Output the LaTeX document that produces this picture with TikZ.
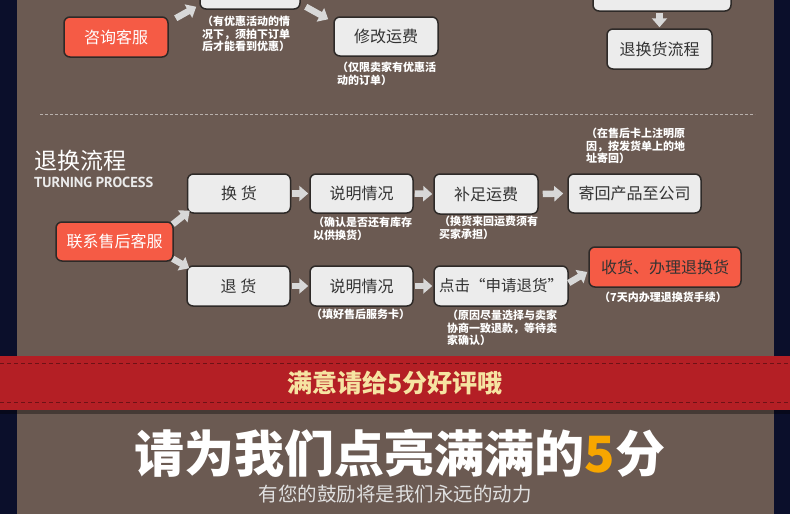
\documentclass[tikz,border=0pt]{standalone}
\usepackage{fontspec}
\newfontfamily\cjk{Noto Sans CJK SC}
\newfontfamily\ptsans{PT Sans}
\usetikzlibrary{arrows.meta,calc}
\definecolor{navy}{HTML}{0B0F2B}
\definecolor{panel}{HTML}{6B5A52}
\definecolor{boxgray}{HTML}{ECECEC}
\definecolor{boxline}{HTML}{2E2A28}
\definecolor{boxred}{HTML}{F55B45}
\definecolor{arrowgray}{HTML}{D8D8D8}
\definecolor{txtdark}{HTML}{333333}
\definecolor{bannerred}{HTML}{B41F25}
\definecolor{stitchred}{HTML}{6E1216}
\definecolor{cream}{HTML}{F6E4A2}
\definecolor{gold}{HTML}{F7A600}
\definecolor{sepgray}{HTML}{B8B0AC}
\tikzset{
  gbox/.style={draw=boxline, line width=1.5pt, fill=boxgray, rounded corners=6pt,
    text=txtdark, font=\cjk\fontsize{16}{16}\selectfont, inner sep=0pt, align=center},
  rbox/.style={gbox, fill=boxred, text=white},
  fat/.style={draw=arrowgray, line width=6.5pt, -{Triangle[width=15pt,length=9pt]}},
  note/.style={text=white, font=\cjk\bfseries\fontsize{11}{12.6}\selectfont,
    align=left, inner sep=0pt, anchor=north west},
}
\begin{document}
\begin{tikzpicture}[x=1pt,y=-1pt]
\clip (0,0) rectangle (790,514);
\fill[navy] (0,0) rectangle (790,514);
\fill[panel] (17,0) rectangle (774,514);
% separator
\draw[sepgray, line width=0.8pt, dash pattern=on 3pt off 2pt] (40,114.5) -- (755,114.5);

% top section
\node[gbox, minimum width=100pt, minimum height=40pt] (tb) at (250,-11) {};
\node[gbox, minimum width=138pt, minimum height=40pt] (tr) at (662,-9) {};
\node[rbox, minimum width=104pt, minimum height=40pt] (zx) at (116,37) {咨询客服};
\node[gbox, minimum width=104pt, minimum height=39pt] (xg) at (386,36.5) {修改运费};
\node[gbox, minimum width=105pt, minimum height=40pt] (tg) at (659.5,49) {退换货流程};

\draw[fat] ([shift={(7,2)}]zx.north east) -- ([shift={(-3,-3)}]tb.south west);
\draw[fat] ([shift={(5,-3)}]tb.south east) -- ([shift={(-5,3)}]xg.north west);
\draw[fat] ([yshift=-1pt]tg.north |- tr.south) -- ([yshift=1pt]tg.north);

\node[note] (n1) at (202,16) {（有优惠活动的情\\况下，须拍下订单\\后才能看到优惠）};
\node[note] (n2) at (337,62) {（仅限卖家有优惠活\\动的订单）};

% title
\node[text=white, font=\cjk\fontsize{23}{23}\selectfont, inner sep=0pt, anchor=west] (t1) at (34,161) {退换流程};
\node[text=white!92!black, font=\ptsans\bfseries\fontsize{14.5}{14.5}\selectfont, inner sep=0pt, anchor=west] (t2) at (34,182.5) {TURNING PROCESS};

% middle flow
\node[gbox, minimum width=103pt, minimum height=39pt] (hh) at (239,193.5) {换 货};
\node[gbox, minimum width=103pt, minimum height=39pt] (sm1) at (361.5,193.5) {说明情况};
\node[gbox, minimum width=104pt, minimum height=40pt] (bz) at (486,194) {补足运费};
\node[gbox, minimum width=133pt, minimum height=39pt] (jh) at (634.5,193.5) {寄回产品至公司};
\node[rbox, minimum width=117pt, minimum height=39pt] (lx) at (114.5,241.5) {联系售后客服};
\node[gbox, minimum width=103pt, minimum height=40pt] (th) at (238.5,286) {退 货};
\node[gbox, minimum width=103pt, minimum height=40pt] (sm2) at (361.5,286) {说明情况};
\node[gbox, minimum width=134pt, minimum height=40pt, font=\cjk\fontsize{15.5}{16}\selectfont] (dj) at (501,286) {点击“申请退货”};
\node[rbox, text=txtdark, minimum width=152pt, minimum height=40pt] (sh) at (665,267) {收货、办理退换货};

\draw[fat] ([shift={(-1,3)}]lx.north east) -- ([shift={(3,-3)}]hh.south west);
\draw[fat] ([shift={(-1,-3)}]lx.south east) -- ([shift={(3,3)}]th.north west);
\draw[fat] ([xshift=1pt]hh.east) -- ([xshift=-1pt]sm1.west);
\draw[fat] ([xshift=1pt]sm1.east) -- ([xshift=-1pt]bz.west);
\draw[fat] ([xshift=4pt]bz.east) -- ([xshift=-4pt]jh.west);
\draw[fat] ([xshift=1pt]th.east) -- ([xshift=-1pt]sm2.west);
\draw[fat] ([xshift=1pt]sm2.east) -- ([xshift=-1pt]dj.west);
\draw[fat] ([shift={(0,-3)}]dj.east) -- ([shift={(-1,5)}]sh.west);

\node[note] (n3) at (586,128) {（在售后卡上注明原\\因，按发货单上的地\\址寄回）};
\node[note] (n4) at (313,217) {（确认是否还有库存\\以供换货）};
\node[note] (n5) at (439,216) {（换货来回运费须有\\买家承担）};
\node[note] (n6) at (311,309) {（填好售后服务卡）};
\node[note] (n7) at (447,310) {（原因尽量选择与卖家\\协商一致退款，等待卖\\家确认）};
\node[note, anchor=north] (n8) at (663,292) {（7天内办理退换货手续）};

% banner
\fill[black, opacity=0.35] (0,410) rectangle (790,414);
\fill[bannerred] (0,356) rectangle (790,410);
\draw[stitchred, line width=1pt, dash pattern=on 4pt off 3pt] (0,363) -- (790,363);
\draw[stitchred, line width=1pt, dash pattern=on 4pt off 3pt] (0,402.5) -- (790,402.5);
\node[text=cream, font=\cjk\bfseries\fontsize{25}{25}\selectfont, inner sep=0pt] (bt) at (395,383) {满意请给5分好评哦};

% bottom
\node[text=white, font=\cjk\bfseries\fontsize{50}{50}\selectfont, inner sep=0pt] (big) at (400,453) {请为我们点亮满满的\textcolor{gold}{5}分};
\node[text=white!88!black, font=\cjk\fontsize{19.5}{19.5}\selectfont, inner sep=0pt] (sub) at (395,494) {有您的鼓励将是我们永远的动力};
\end{tikzpicture}
\end{document}
